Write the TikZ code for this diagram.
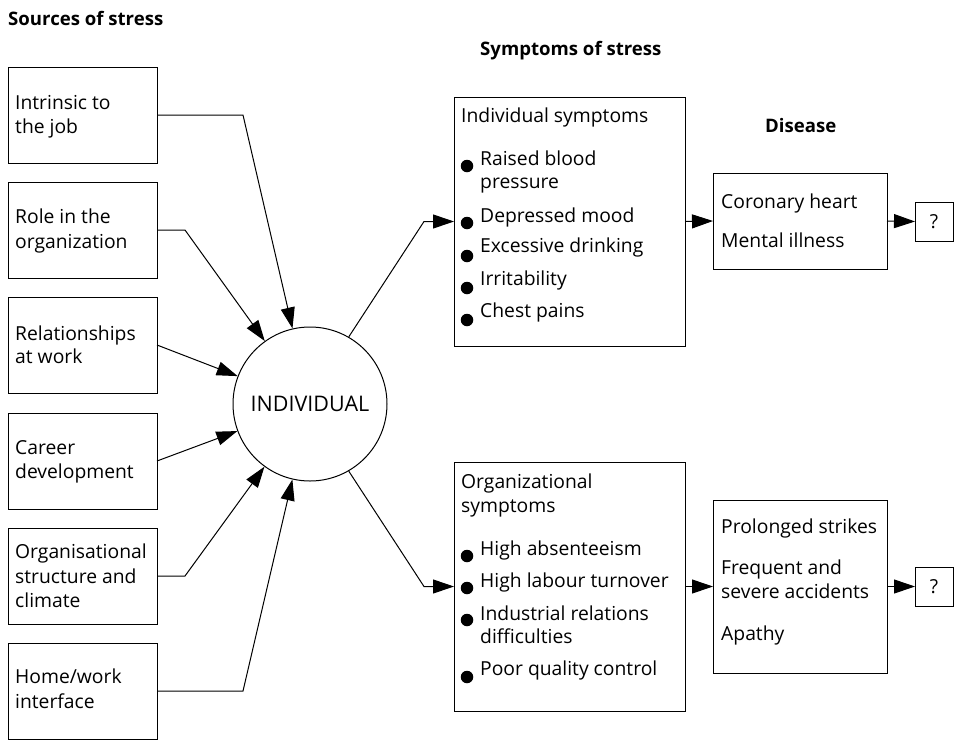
\documentclass[tikz,border=0pt]{standalone}
\usepackage{fontspec}
\setmainfont{Open Sans}
\usetikzlibrary{arrows.meta}
\begin{document}
\begin{tikzpicture}[x=1pt,y=-1pt,
  box/.style={draw, line width=1pt, anchor=north west, inner sep=0pt, outer sep=0pt},
  txt/.style={anchor=base west, inner sep=0pt, font=\fontsize{19.3}{23}\selectfont},
  ttl/.style={anchor=base west, inner sep=0pt, font=\fontsize{18.6}{22}\selectfont\bfseries},
  arr/.style={line width=1pt, -{Triangle[length=21pt,width=14pt]}},
  bul/.style={circle, fill, inner sep=0pt, minimum size=12.5pt}
]
\useasboundingbox (0,0) rectangle (959,742);

% titles
\node[ttl] (h1) at (8,25) {Sources of stress};
\node[ttl] (h2) at (480,55) {Symptoms of stress};
\node[ttl] (h3) at (765,132) {Disease};

% source boxes
\node[box, minimum width=149pt, minimum height=96pt] (s1) at (8,67) {};
\node[box, minimum width=149pt, minimum height=96pt] (s2) at (8,182) {};
\node[box, minimum width=149pt, minimum height=96pt] (s3) at (8,297) {};
\node[box, minimum width=149pt, minimum height=96pt] (s4) at (8,413) {};
\node[box, minimum width=149pt, minimum height=96pt] (s5) at (8,528) {};
\node[box, minimum width=149pt, minimum height=96pt] (s6) at (8,643) {};

\node[txt] (s1a) at (15,109) {Intrinsic to};
\node[txt] (s1b) at (15,133) {the job};
\node[txt] (s2a) at (15,223) {Role in the};
\node[txt] (s2b) at (15,248) {organization};
\node[txt] (s3a) at (15,340) {Relationships};
\node[txt] (s3b) at (15,363) {at work};
\node[txt] (s4a) at (15,454) {Career};
\node[txt] (s4b) at (15,478) {development};
\node[txt] (s5a) at (15,558) {Organisational};
\node[txt] (s5b) at (15,583) {structure and};
\node[txt] (s5c) at (15,607) {climate};
\node[txt] (s6a) at (15,683) {Home/work};
\node[txt] (s6b) at (15,708) {interface};

% individual
\node[draw, circle, line width=1pt, minimum size=154pt, inner sep=0pt,
      font=\fontsize{21.5}{25}\selectfont] (ind) at (310,404) {INDIVIDUAL};

% symptom boxes
\node[box, minimum width=231pt, minimum height=249pt] (is) at (454,97) {};
\node[box, minimum width=231pt, minimum height=249pt] (os) at (454,462) {};

\node[txt] (is0) at (461,122) {Individual symptoms};
\node[txt] (is1) at (480,165) {Raised blood};
\node[txt] (is1b) at (480,188) {pressure};
\node[txt] (is2) at (480,222) {Depressed mood};
\node[txt] (is3) at (480,252) {Excessive drinking};
\node[txt] (is4) at (480,285) {Irritability};
\node[txt] (is5) at (480,317) {Chest pains};
\node[bul] (ib1) at (467,166) {};
\node[bul] (ib2) at (467,223) {};
\node[bul] (ib3) at (467,256) {};
\node[bul] (ib4) at (467,288) {};
\node[bul] (ib5) at (467,320) {};

\node[txt] (os0) at (461,488) {Organizational};
\node[txt] (os0b) at (461,512) {symptoms};
\node[txt] (os1) at (480,555) {High absenteeism};
\node[txt] (os2) at (480,587) {High labour turnover};
\node[txt] (os3) at (480,620) {Industrial relations};
\node[txt] (os3b) at (480,643) {difficulties};
\node[txt] (os4) at (480,675) {Poor quality control};
\node[bul] (ob1) at (467,556) {};
\node[bul] (ob2) at (467,588) {};
\node[bul] (ob3) at (467,620) {};
\node[bul] (ob4) at (467,677) {};

% disease boxes
\node[box, minimum width=174pt, minimum height=96pt] (d1) at (713,173) {};
\node[box, minimum width=174pt, minimum height=173pt] (d2) at (713,500) {};
\node[txt] (d1a) at (721,208) {Coronary heart};
\node[txt] (d1b) at (721,247) {Mental illness};
\node[txt] (d2a) at (721,533) {Prolonged strikes};
\node[txt] (d2b) at (721,574) {Frequent and};
\node[txt] (d2c) at (721,598) {severe accidents};
\node[txt] (d2d) at (721,640) {Apathy};

\node[box, minimum width=38pt, minimum height=39pt,
      font=\fontsize{19.3}{23}\selectfont] (q1) at (915,202) {?};
\node[box, minimum width=38pt, minimum height=39pt,
      font=\fontsize{19.3}{23}\selectfont] (q2) at (915,567) {?};

% connectors in
\draw[arr] (s1.east) -- (243,115) -- (ind);
\draw[arr] (s2.east) -- (185,230) -- (ind);
\draw[arr] (s3.east) -- (ind);
\draw[arr] (s4.east) -- (ind);
\draw[arr] (s5.east) -- (185,576) -- (ind);
\draw[arr] (s6.east) -- (243,691) -- (ind);

% connectors out
\coordinate (c1) at (424,221.5);
\coordinate (c2) at (424,586.5);
\draw[arr] (ind.60) -- (c1) -- (is.west);
\draw[arr] (ind.-60) -- (c2) -- (os.west);
\draw[arr] (is.east) -- (d1.west);
\draw[arr] (os.east) -- (d2.west);
\draw[arr] (d1.east) -- (q1.west);
\draw[arr] (d2.east) -- (q2.west);
\end{tikzpicture}
\end{document}
